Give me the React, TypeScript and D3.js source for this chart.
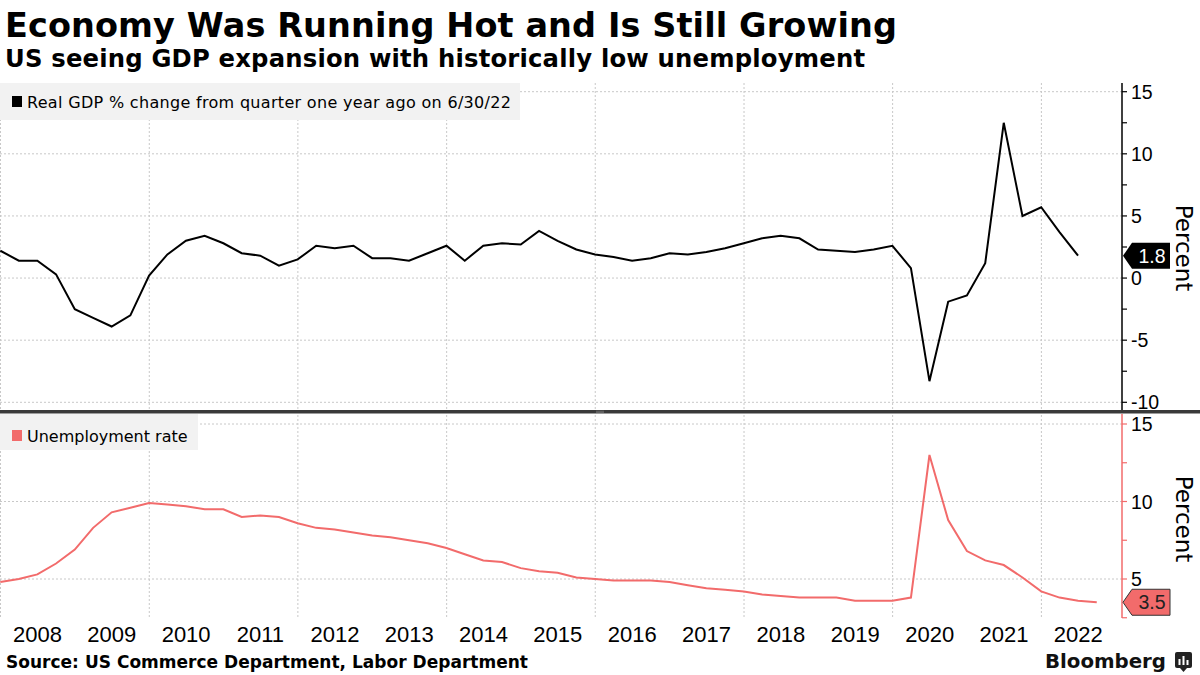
import * as d3 from "d3";

// quarterly, first point = Q4 2007
const gdpChange = [
  2.2,
  1.4, 1.4, 0.3, -2.5,
  -3.2, -3.9, -3.0, 0.2,
  1.9, 3.0, 3.4, 2.8,
  2.0, 1.8, 1.0, 1.5,
  2.6, 2.4, 2.6, 1.6,
  1.6, 1.4, 2.0, 2.6,
  1.4, 2.6, 2.8, 2.7,
  3.8, 3.0, 2.3, 1.9,
  1.7, 1.4, 1.6, 2.0,
  1.9, 2.1, 2.4, 2.8,
  3.2, 3.4, 3.2, 2.3,
  2.2, 2.1, 2.3, 2.6,
  0.8, -8.3, -1.9, -1.4,
  1.2, 12.5, 5.0, 5.7,
  3.7, 1.8,
];

const unemployment = [
  4.8,
  5.0, 5.3, 6.0, 6.9,
  8.3, 9.3, 9.6, 9.9,
  9.8, 9.7, 9.5, 9.5,
  9.0, 9.1, 9.0, 8.6,
  8.3, 8.2, 8.0, 7.8,
  7.7, 7.5, 7.3, 7.0,
  6.6, 6.2, 6.1, 5.7,
  5.5, 5.4, 5.1, 5.0,
  4.9, 4.9, 4.9, 4.8,
  4.6, 4.4, 4.3, 4.2,
  4.0, 3.9, 3.8, 3.8,
  3.8, 3.6, 3.6, 3.6,
  3.8, 13.0, 8.8, 6.8,
  6.2, 5.9, 5.1, 4.2,
  3.8, 3.6, 3.5,
];

const yearLabels = d3.range(2008, 2023);
const gridYears = [2008, 2010, 2012, 2014, 2016, 2018, 2020, 2022];
const gdpTicks = [-10, -5, 0, 5, 10, 15];
const gdpMinor = [-7.5, -2.5, 2.5, 7.5, 12.5];
const unempTicks = [5, 10, 15];
const unempMinor = [2.5, 7.5, 12.5];

const title = "Economy Was Running Hot and Is Still Growing";
const subtitle = "US seeing GDP expansion with historically low unemployment";
const gdpLegend = "Real GDP % change from quarter one year ago on 6/30/22";
const unempLegend = "Unemployment rate";
const source = "Source: US Commerce Department, Labor Department";

const RED = "#f26b6b";
const GRID = "#c8c8c8";
const NUM_FONT = "'Liberation Sans', Arial, sans-serif";
const TXT_FONT = "'DejaVu Sans', sans-serif";

const quarterEnd = (i: number) => new Date(2008, i * 3, 0);

export default function App() {
  const width = 1200;
  const height = 675;
  const axisX = 1122;
  const top = { y0: 83, y1: 410 };
  const bot = { y0: 414, y1: 618 };

  const x = d3
    .scaleTime()
    .domain([new Date(2008, 0, 1), new Date(2023, 1, 1)])
    .range([0.5, axisX]);

  const yTop = d3.scaleLinear().domain([-10, 15]).range([402.3, 91.7]);
  const yBot = d3.scaleLinear().domain([5, 15]).range([579, 424]);

  const gdpLine = d3
    .line<number>()
    .x((_, i) => x(quarterEnd(i)))
    .y((d) => yTop(d));
  const unempLine = d3
    .line<number>()
    .x((_, i) => x(quarterEnd(i)))
    .y((d) => yBot(d));

  const lastGdp = gdpChange[gdpChange.length - 1];
  const lastUnemp = unemployment[unemployment.length - 1];

  // arrow-shaped tag pointing at the axis
  const tag = (yv: number) => {
    const h = 13;
    return `M${axisX + 1},${yv} L${axisX + 10},${yv - h} L${axisX + 48},${yv - h} L${axisX + 48},${yv + h} L${axisX + 10},${yv + h} Z`;
  };

  return (
    <>
      <style>{"body{margin:0}"}</style>
      <svg width={width} height={height} style={{ display: "block", background: "#fff" }}>
        {/* titles */}
        <text x={5} y={37} fontFamily={TXT_FONT} fontWeight="bold" fontSize={33.5} textLength={892} lengthAdjust="spacing" fill="#000">
          {title}
        </text>
        <text x={5} y={67} fontFamily={TXT_FONT} fontWeight="bold" fontSize={24.3} textLength={860} lengthAdjust="spacing" fill="#000">
          {subtitle}
        </text>

        {/* vertical grid */}
        {gridYears.map((yr) => (
          <line key={yr} x1={x(new Date(yr, 0, 1))} x2={x(new Date(yr, 0, 1))} y1={top.y0} y2={bot.y1} stroke={GRID} strokeDasharray="2,2" />
        ))}

        {/* horizontal grid */}
        {gdpTicks.map((t) => (
          <line key={t} x1={0} x2={axisX} y1={yTop(t)} y2={yTop(t)} stroke={GRID} strokeDasharray="2,2" />
        ))}
        {unempTicks.map((t) => (
          <line key={t} x1={0} x2={axisX} y1={yBot(t)} y2={yBot(t)} stroke={GRID} strokeDasharray="2,2" />
        ))}

        {/* legends */}
        <rect x={0} y={top.y0} width={520} height={37} fill="#f2f2f2" />
        <rect x={12} y={96} width={10} height={11} fill="#000" />
        <text x={27} y={108} fontFamily={TXT_FONT} fontSize={16} textLength={484} lengthAdjust="spacing" fill="#000">
          {gdpLegend}
        </text>
        <rect x={0} y={bot.y0} width={198} height={36} fill="#f2f2f2" />
        <rect x={12} y={430} width={10} height={11} fill={RED} />
        <text x={27} y={442} fontFamily={TXT_FONT} fontSize={16} fill="#000">
          {unempLegend}
        </text>

        {/* series */}
        <path d={gdpLine(gdpChange) ?? ""} fill="none" stroke="#000" strokeWidth={2} />
        <path d={unempLine(unemployment) ?? ""} fill="none" stroke={RED} strokeWidth={2} />

        {/* divider */}
        <rect x={0} y={410} width={width} height={3.5} fill="#3a3a3a" />
        <line x1={596} x2={604} y1={411.2} y2={411.2} stroke="#888" strokeWidth={0.6} />
        <line x1={596} x2={604} y1={412.4} y2={412.4} stroke="#888" strokeWidth={0.6} />

        {/* top axis */}
        <line x1={axisX} x2={axisX} y1={top.y0} y2={top.y1} stroke="#000" strokeWidth={1.5} />
        {gdpTicks.concat(gdpMinor).map((t) => (
          <line key={t} x1={axisX} x2={axisX + 5} y1={yTop(t)} y2={yTop(t)} stroke="#000" strokeWidth={1.2} />
        ))}
        {gdpTicks.map((t) => (
          <text key={t} x={axisX + 9} y={yTop(t) + 7} fontFamily={NUM_FONT} fontSize={19.5} fill="#000">
            {t}
          </text>
        ))}
        <text transform={`translate(1176,248) rotate(90)`} textAnchor="middle" fontFamily={TXT_FONT} fontSize={23} fill="#000">
          Percent
        </text>

        {/* bottom axis */}
        <line x1={axisX} x2={axisX} y1={bot.y0} y2={bot.y1} stroke={RED} strokeWidth={1.5} />
        {unempTicks.concat(unempMinor).map((t) => (
          <line key={t} x1={axisX} x2={axisX + 5} y1={yBot(t)} y2={yBot(t)} stroke={RED} strokeWidth={1.2} />
        ))}
        {unempTicks.map((t) => (
          <text key={t} x={axisX + 9} y={yBot(t) + 7} fontFamily={NUM_FONT} fontSize={19.5} fill="#000">
            {t}
          </text>
        ))}
        <text transform={`translate(1176,519) rotate(90)`} textAnchor="middle" fontFamily={TXT_FONT} fontSize={23} fill="#000">
          Percent
        </text>

        {/* last value tags */}
        <path d={tag(yTop(lastGdp))} fill="#000" />
        <text x={axisX + 30} y={yTop(lastGdp) + 7} textAnchor="middle" fontFamily={NUM_FONT} fontSize={19.5} fill="#fff">
          {lastGdp.toFixed(1)}
        </text>
        <path d={tag(yBot(lastUnemp))} fill={RED} stroke="#333" strokeWidth={1} />
        <text x={axisX + 30} y={yBot(lastUnemp) + 7} textAnchor="middle" fontFamily={NUM_FONT} fontSize={19.5} fill="#222">
          {lastUnemp.toFixed(1)}
        </text>

        {/* x axis labels */}
        {yearLabels.map((yr) => (
          <text key={yr} x={x(new Date(yr, 6, 1))} y={642} textAnchor="middle" fontFamily={NUM_FONT} fontSize={22} fill="#000">
            {yr}
          </text>
        ))}

        {/* footer */}
        <text x={6} y={668} fontFamily={TXT_FONT} fontWeight="bold" fontSize={17} textLength={522} lengthAdjust="spacing" fill="#000">
          {source}
        </text>
        <text x={1045} y={668} fontFamily={TXT_FONT} fontWeight="bold" fontSize={19.5} textLength={121} lengthAdjust="spacingAndGlyphs" fill="#111">
          Bloomberg
        </text>
        <rect x={1175} y={652} width={17} height={16} rx={2} fill="#222" />
        <path d="M1180,668 L1183.5,672 L1187,668 Z" fill="#222" />
        <rect x={1178.5} y={659} width={2} height={6} fill="#fff" />
        <rect x={1182.5} y={656} width={2} height={9} fill="#fff" />
        <rect x={1186.5} y={660} width={2} height={5} fill="#fff" />
      </svg>
    </>
  );
}
